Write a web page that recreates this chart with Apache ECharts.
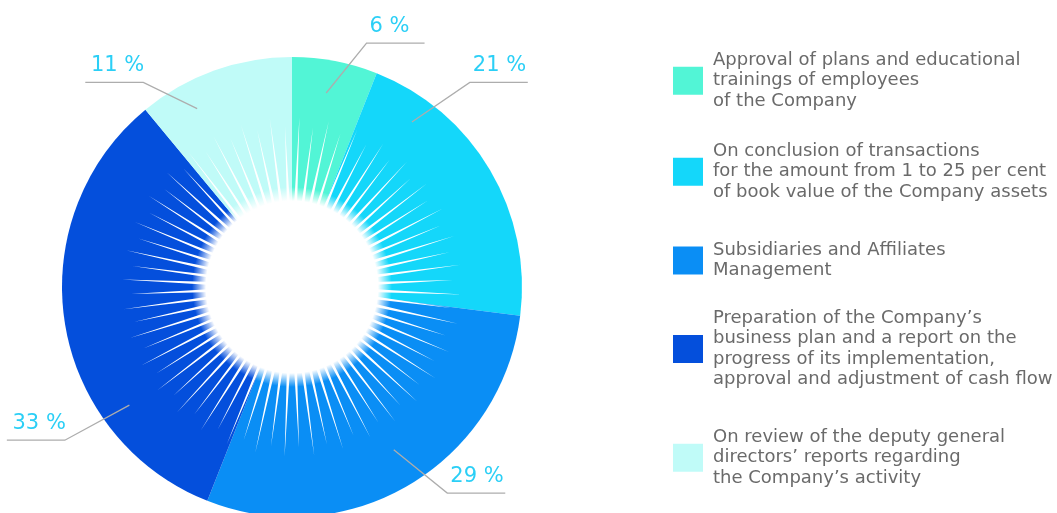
<!DOCTYPE html>
<html>
<head>
<meta charset="utf-8">
<script src="https://cdn.jsdelivr.net/npm/echarts@6/dist/echarts.min.js"></script>
<style>
  html, body { margin: 0; padding: 0; background: #fff; }
  #chart { width: 1057px; height: 513px; }
</style>
</head>
<body>
<div id="chart"></div>
<script>
// ---- data ----
const categories = [
  'Approval of plans and educational\ntrainings of employees\nof the Company',
  'On conclusion of transactions\nfor the amount from 1 to 25 per cent\nof book value of the Company assets',
  'Subsidiaries and Affiliates\nManagement',
  'Preparation of the Company\u2019s\nbusiness plan and a report on the\nprogress of its implementation,\napproval and adjustment of cash flow',
  'On review of the deputy general\ndirectors\u2019 reports regarding\nthe Company\u2019s activity'
];
const values = [6, 21, 29, 33, 11];
const colors = ['#52f5d6', '#14d7fa', '#0a8ef5', '#044fdc', '#c0fbf8'];

// ---- layout (annotation placement, not data) ----
const CX = 292, CY = 287, R = 230;
const labelStartAngle = [10, 36, 148, 234, 332];   // deg, clockwise from top
const labelStartRadius = [197, 204, 192, 201, 202];
const labelBendAngle = [17, 41, 143, 236, 324];
const labelBendRadius = [255, 271, 258, 274, 253];
const legendTops = [50, 141, 240, 308, 427];
const SEG = 58;

// decorative sunburst
const SPIKES = 72;
const SPIKE_OFFSET = 2.5;
const HUB_R = 86;
const VALLEY_R = 48;

function polarPt(r, deg) {
  const a = deg * Math.PI / 180;
  return [CX + r * Math.sin(a), CY - r * Math.cos(a)];
}

const chart = echarts.init(document.getElementById('chart'));

const legends = categories.map((name, i) => ({
  orient: 'vertical',
  left: 673,
  top: legendTops[i],
  padding: 0,
  data: [name],
  icon: 'rect',
  itemWidth: 30,
  itemHeight: 28,
  selectedMode: false,
  textStyle: {
    fontFamily: 'DejaVu Sans',
    fontSize: 18,
    lineHeight: 20.5,
    color: '#6a6a6a',
    padding: [0, 0, 0, 5]
  }
}));

const option = {
  animation: false,
  backgroundColor: '#ffffff',
  legend: legends,
  polar: { center: [CX, CY], radius: R },
  radiusAxis: { type: 'value', min: 0, max: R, show: false },
  angleAxis: { type: 'value', min: 0, max: 360, startAngle: 90, clockwise: true, show: false },
  series: [
    {
      type: 'pie',
      center: [CX, CY],
      radius: [0, R],
      startAngle: 90,
      clockwise: true,
      avoidLabelOverlap: false,
      silent: true,
      z: 2,
      itemStyle: { borderWidth: 0 },
      data: categories.map((name, i) => ({
        name: name,
        value: values[i],
        itemStyle: { color: colors[i] }
      })),
      label: {
        show: true,
        position: 'outside',
        formatter: '{c} %',
        fontFamily: 'DejaVu Sans',
        fontSize: 21,
        color: '#2bcff6'
      },
      labelLine: { show: false },
      labelLayout: function (params) {
        const i = params.dataIndex;
        const p1 = polarPt(labelBendRadius[i], labelBendAngle[i]);
        const right = p1[0] > CX;
        return {
          x: right ? p1[0] + 3 : p1[0] + 1,
          y: p1[1] - 17,
          align: right ? 'left' : 'right',
          verticalAlign: 'middle'
        };
      }
    },
    {
      // decorative white sunburst in the centre
      type: 'custom',
      coordinateSystem: 'polar',
      silent: true,
      z: 5,
      data: [[0, 0]],
      renderItem: function (params, api) {
        const pts = [];
        const half = 180 / SPIKES;
        for (let i = 0; i < SPIKES; i++) {
          const a = SPIKE_OFFSET + i * 360 / SPIKES;
          const tipR = (i % 2) ? 161 : 170;
          pts.push(api.coord([tipR, a]));
          pts.push(api.coord([VALLEY_R, a + half]));
        }
        const c = api.coord([0, 0]);
        const e = api.coord([HUB_R, 0]);
        const rr = Math.hypot(e[0] - c[0], e[1] - c[1]);
        const glowR = rr + 14;
        const k = rr / glowR;
        return {
          type: 'group',
          children: [
            { type: 'polygon', shape: { points: pts }, style: { fill: '#ffffff' } },
            {
              type: 'circle',
              shape: { cx: c[0], cy: c[1], r: glowR },
              style: {
                fill: {
                  type: 'radial', x: 0.5, y: 0.5, r: 0.5,
                  colorStops: [
                    { offset: 0, color: 'rgba(255,255,255,1)' },
                    { offset: k, color: 'rgba(255,255,255,1)' },
                    { offset: 1, color: 'rgba(255,255,255,0)' }
                  ]
                }
              }
            }
          ]
        };
      }
    },
    {
      // leader lines for the percentage labels
      type: 'custom',
      coordinateSystem: 'polar',
      silent: true,
      z: 6,
      data: values.map((v, i) => [i, 0]),
      renderItem: function (params, api) {
        const i = params.dataIndex;
        const p0 = api.coord([labelStartRadius[i], labelStartAngle[i]]);
        const p1 = api.coord([labelBendRadius[i], labelBendAngle[i]]);
        const right = p1[0] > CX;
        const p2 = [p1[0] + (right ? SEG : -SEG), p1[1]];
        return {
          type: 'polyline',
          shape: { points: [p0, p1, p2] },
          style: { stroke: '#adadad', lineWidth: 1.3, fill: null }
        };
      }
    }
  ]
};

chart.setOption(option);
</script>
</body>
</html>
